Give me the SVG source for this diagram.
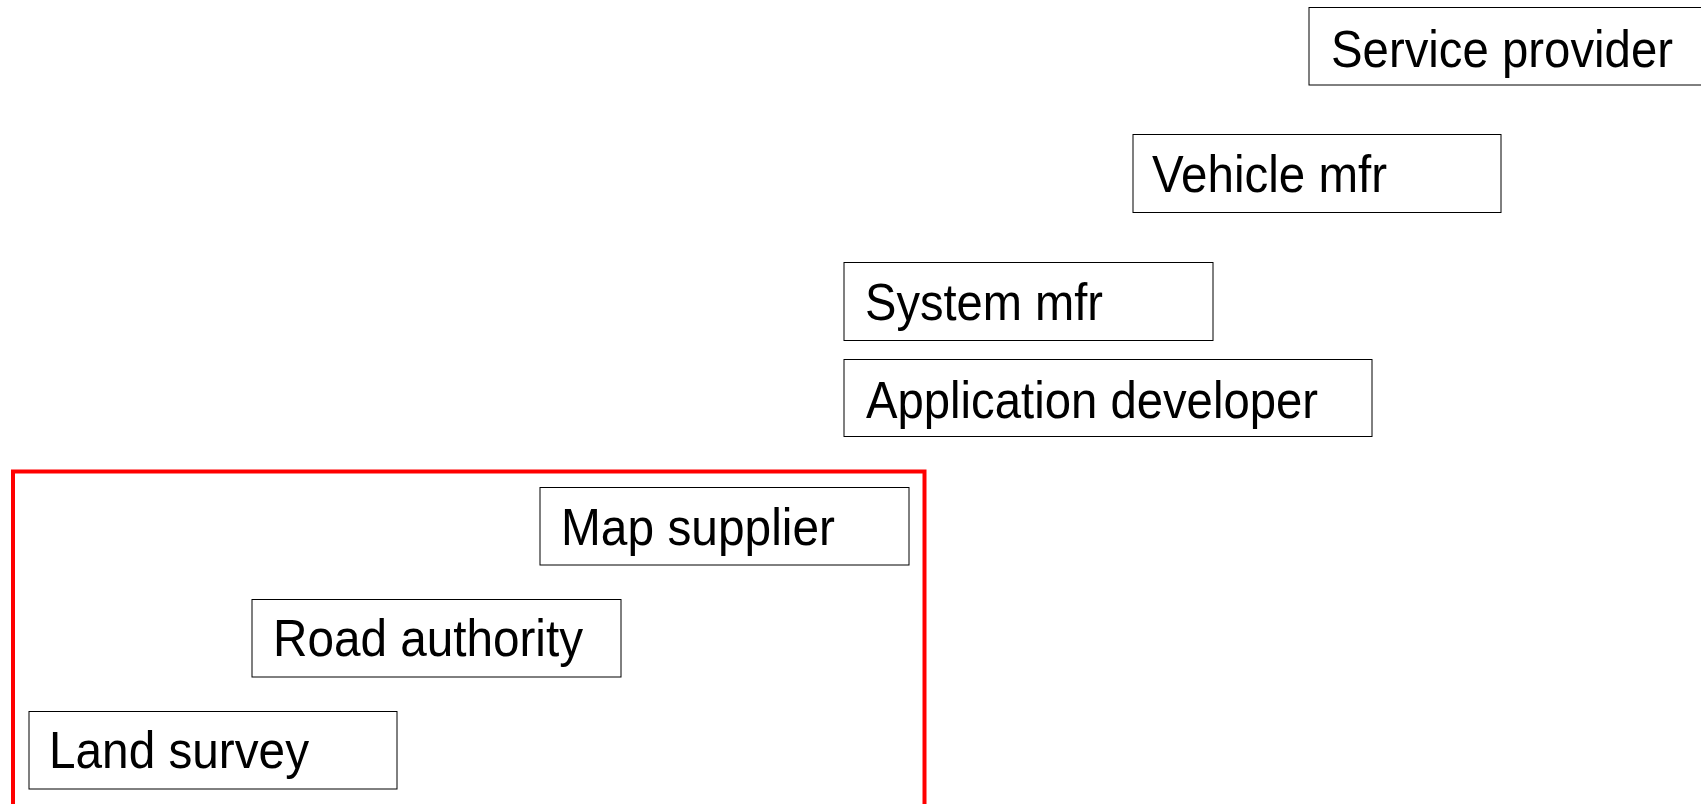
<svg xmlns="http://www.w3.org/2000/svg" width="1701" height="804" viewBox="0 0 1701 804">
  <style>
    .box { fill: #ffffff; stroke: #000000; stroke-width: 1; }
    .lbl { font-family: "Liberation Sans", Arial, sans-serif; font-size: 52px; fill: #000000; }
    .zone { fill: none; stroke: #ff0000; stroke-width: 4; }
  </style>
  <rect width="1701" height="804" fill="#ffffff"/>

  <!-- data-production zone -->
  <g id="zone-data">
    <rect class="zone" x="13" y="471.5" width="911.5" height="360"/>
  </g>

  <g id="service-provider">
    <rect class="box" x="1309" y="7.5" width="420" height="77.5"/>
    <text class="lbl" x="1331" y="67" textLength="342" lengthAdjust="spacingAndGlyphs">Service provider</text>
  </g>
  <g id="vehicle-mfr">
    <rect class="box" x="1133" y="134.5" width="368" height="78"/>
    <text class="lbl" x="1152" y="192" textLength="235" lengthAdjust="spacingAndGlyphs">Vehicle mfr</text>
  </g>
  <g id="system-mfr">
    <rect class="box" x="844" y="262.5" width="369" height="78"/>
    <text class="lbl" x="865" y="320" textLength="238" lengthAdjust="spacingAndGlyphs">System mfr</text>
  </g>
  <g id="application-developer">
    <rect class="box" x="844" y="359.5" width="528" height="77"/>
    <text class="lbl" x="866" y="418" textLength="452" lengthAdjust="spacingAndGlyphs">Application developer</text>
  </g>
  <g id="map-supplier">
    <rect class="box" x="540" y="487.5" width="369" height="77.5"/>
    <text class="lbl" x="561" y="545" textLength="274" lengthAdjust="spacingAndGlyphs">Map supplier</text>
  </g>
  <g id="road-authority">
    <rect class="box" x="252" y="599.5" width="369" height="77.5"/>
    <text class="lbl" x="273" y="656" textLength="310" lengthAdjust="spacingAndGlyphs">Road authority</text>
  </g>
  <g id="land-survey">
    <rect class="box" x="29" y="711.5" width="368" height="77.5"/>
    <text class="lbl" x="49" y="768" textLength="260" lengthAdjust="spacingAndGlyphs">Land survey</text>
  </g>

  <g id="connectors"/>
</svg>
